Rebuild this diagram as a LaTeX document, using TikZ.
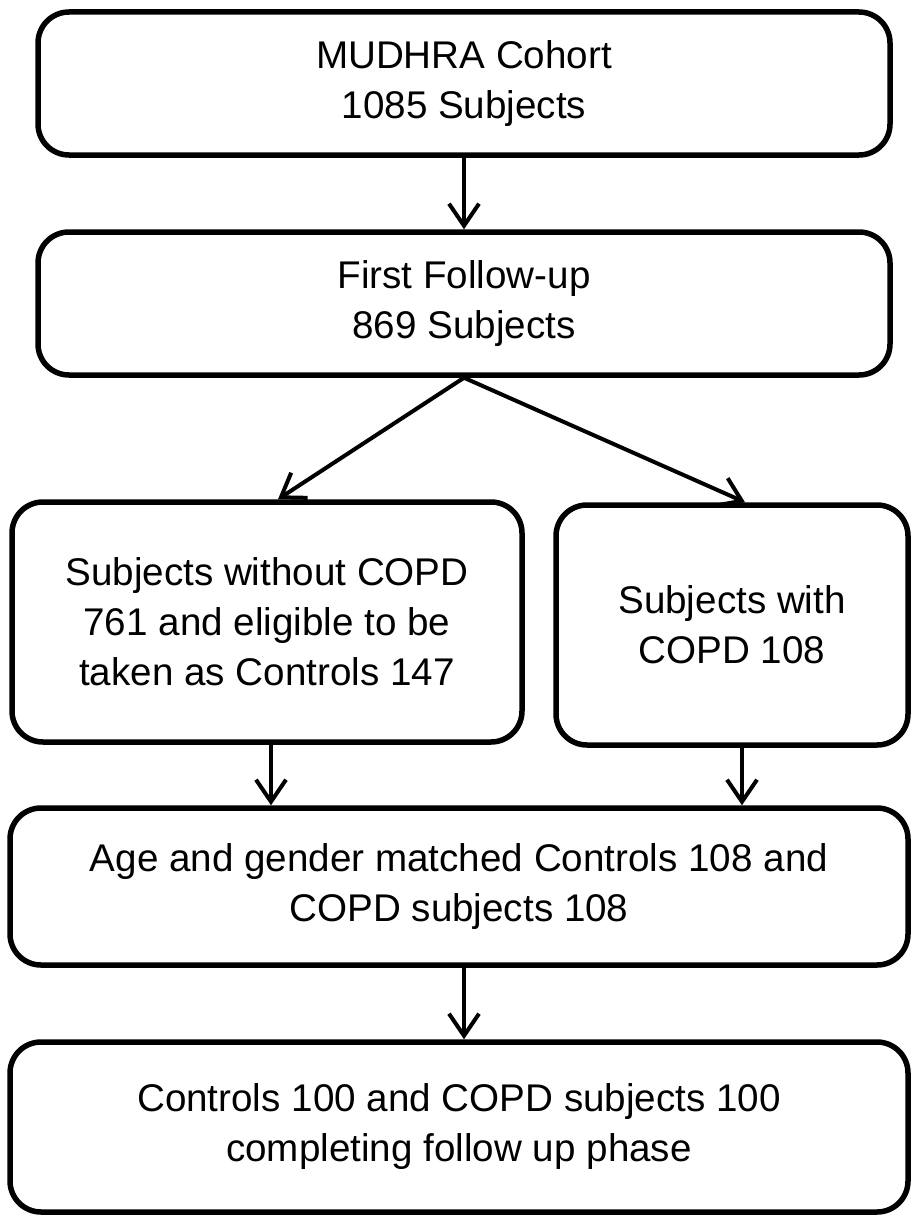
\documentclass[tikz,border=0pt]{standalone}
\usepackage{fontspec}
\setmainfont{Liberation Sans}
\usetikzlibrary{arrows.meta}
\tikzset{
	stage/.style={draw, line width=5.5pt, rounded corners=31pt, inner sep=0pt,
		align=center, font=\fontsize{38.6}{50}\selectfont},
	flow/.style={line width=4pt, line cap=round,
		-{Straight Barb[length=22pt, width=30pt, line width=4pt]}}
}
\begin{document}
\begin{tikzpicture}[x=1pt, y=-1pt]
	\useasboundingbox (0,0) rectangle (911,1220);
	% stages of the study
	\node[stage, minimum width=852pt, minimum height=143pt] (cohort) at (464,83.5) {MUDHRA Cohort\\1085 Subjects};
	\node[stage, minimum width=852pt, minimum height=143pt] (followup) at (464,303.5) {First Follow-up\\869 Subjects};
	\node[stage, minimum width=510pt, minimum height=240pt] (nocopd) at (267,622) {Subjects without COPD\\761 and eligible to be\\taken as Controls 147};
	\node[stage, minimum width=352pt, minimum height=240pt] (copd) at (732,625) {Subjects with\\COPD 108};
	\node[stage, minimum width=898pt, minimum height=157pt] (matched) at (459,886.5) {Age and gender matched Controls 108 and\\COPD subjects 108};
	\node[stage, minimum width=898pt, minimum height=170pt] (completed) at (459,1127) {Controls 100 and COPD subjects 100\\completing follow up phase};
	% connectors
	\draw[flow] (cohort) -- (followup);
	\draw[flow] (followup.south) -- ([xshift=11pt]nocopd.north);
	\draw[flow] (followup.south) -- ([xshift=13pt]copd.north);
	\draw[flow] ([xshift=4pt]nocopd.south) -- ([xshift=4pt]nocopd.south |- matched.north);
	\draw[flow] ([xshift=10pt]copd.south) -- ([xshift=10pt]copd.south |- matched.north);
	\draw[flow] (matched.south -| followup.south) -- (completed.north -| followup.south);
\end{tikzpicture}
\end{document}
